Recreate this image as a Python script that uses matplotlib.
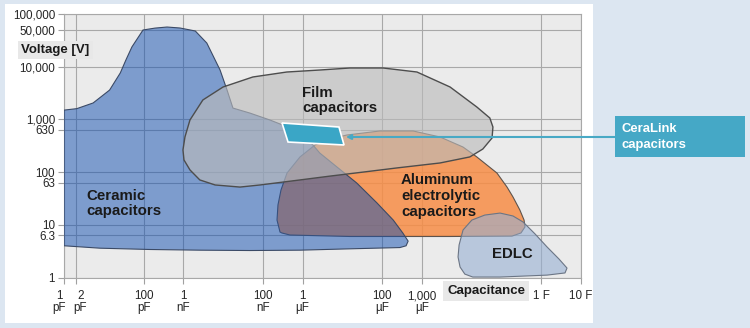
import matplotlib
matplotlib.use('Agg')
import matplotlib.pyplot as plt
from matplotlib.colors import to_rgba
from matplotlib.patches import Rectangle
from matplotlib.transforms import ScaledTranslation

plt.rcParams['font.family'] = ['Liberation Sans', 'DejaVu Sans']

# axis ticks
cap_ticks = [1e-12, 2e-12, 1e-10, 1e-9, 1e-7, 1e-6, 1e-4, 1e-3, 1.0, 10.0]
cap_labels = ['1\npF', '2\npF', '100\npF', '1\nnF', '100\nnF', '1\nµF',
              '100\nµF', '1,000\nµF', '1 F', '10 F']
volt_ticks = [1, 6.3, 10, 63, 100, 630, 1000, 10000, 50000, 100000]
volt_labels = ['1', '6.3', '10', '63', '100', '630', '1,000', '10,000',
               '50,000', '100,000']

# region outlines, capacitance [F] and voltage [V]
ceramic_c = [1e-12, 2.1e-12, 5.4e-12, 14e-12, 26e-12, 36e-12, 51e-12, 97e-12,
             194e-12, 390e-12, 830e-12, 2.0e-9, 3.9e-9, 8.4e-9, 12.6e-9,
             17.7e-9, 47e-9, 150e-9, 480e-9, 1.8e-6, 2.7e-6, 7.3e-6, 23e-6,
             74e-6, 190e-6, 330e-6, 450e-6, 400e-6, 280e-6, 15.5e-6, 860e-9,
             47e-9, 2.6e-9, 145e-12, 8e-12, 1e-12]
ceramic_v = [1500, 1600, 2050, 3600, 7600, 13400, 23700, 49700, 54000, 56600,
             54200, 47600, 28100, 8650, 3600, 1640, 1320, 975, 690, 330, 230,
             125, 62, 26, 12.3, 7.0, 4.9, 4.0, 3.7, 3.5, 3.3, 3.25, 3.3, 3.4,
             3.6, 4.0]

film_c = [0.98e-9, 1.1e-9, 1.47e-9, 3.1e-9, 10e-9, 56e-9, 400e-9, 2.7e-6,
          15.5e-6, 105e-6, 750e-6, 5.1e-3, 24e-3, 51e-3, 61e-3, 58e-3, 34e-3,
          16e-3, 2.85e-3, 236e-6, 33e-6, 4.9e-6, 860e-9, 85e-9, 26.6e-9,
          6.3e-9, 2.6e-9, 1.47e-9, 1.04e-9]
film_v = [263, 464, 975, 2335, 4120, 6380, 7930, 8650, 9450, 9450, 7930, 4120,
          1720, 1063, 717, 444, 274, 194, 149, 120, 100, 84, 71, 57, 52, 57,
          71, 110, 170]

alu_c = [270e-9, 227e-9, 240e-9, 286e-9, 405e-9, 860e-9, 2.05e-6, 4.9e-6,
         13e-6, 88e-6, 600e-6, 2.85e-3, 10.8e-3, 24e-3, 77e-3, 138e-3, 195e-3,
         290e-3, 370e-3, 390e-3, 310e-3, 184e-3, 5.1e-3, 15.5e-6, 480e-9,
         300e-9]
alu_v = [7.3, 12.3, 23.8, 45.8, 96, 194, 327, 425, 506, 603, 603, 464, 299,
         194, 96, 52, 33.7, 19.1, 12.3, 9.1, 7.0, 6.1, 6.0, 6.0, 6.4, 7.0]

edlc_c = [8.1e-3, 8.6e-3, 10.8e-3, 18e-3, 38e-3, 92e-3, 195e-3, 350e-3,
          700e-3, 1.4, 2.8, 4.45, 3.96, 1.4, 92e-3, 19e-3, 12e-3, 9.1e-3]
edlc_v = [2.45, 4.14, 7.96, 12.3, 15.3, 16.7, 14.7, 11.3, 6.7, 3.8, 2.24,
          1.51, 1.22, 1.11, 1.02, 1.02, 1.16, 1.58]

ceralink_c = [303e-9, 8.2e-6, 11e-6, 430e-9]
ceralink_v = [855, 717, 327, 372]
ceralink_anchor = (12.3e-6, 464)

W, H = 750, 328
fig = plt.figure(figsize=(7.5, 3.28), dpi=100, facecolor='#dce6f1')
fig.add_artist(Rectangle((5 / W, 1 - 323 / H), 588 / W, 319 / H,
                         transform=fig.transFigure, facecolor='white',
                         edgecolor='none', zorder=0))

ax = fig.add_axes([64 / W, 1 - 277.5 / H, 517 / W, 263.5 / H])
ax.set_facecolor('#ebebeb')
ax.set_xscale('log')
ax.set_yscale('log')
ax.set_xlim(1e-12, 10)
ax.set_ylim(1, 1e5)

ax.set_xticks(cap_ticks)
ax.set_xticklabels(cap_labels, linespacing=1.0)
ax.set_yticks(volt_ticks)
ax.set_yticklabels(volt_labels)
ax.minorticks_off()
ax.tick_params(axis='both', length=4.3, width=0.8, color='#a0a0a0',
               labelsize=8.4, labelcolor='#262626')
ax.tick_params(axis='y', pad=2.2)
ax.tick_params(axis='x', pad=5)

# 1 pF and 2 pF sit close together, nudge them apart
xlabels = ax.get_xticklabels()
xlabels[0].set_transform(xlabels[0].get_transform() +
                         ScaledTranslation(-0.045, 0, fig.dpi_scale_trans))
xlabels[1].set_transform(xlabels[1].get_transform() +
                         ScaledTranslation(0.045, 0, fig.dpi_scale_trans))

ax.grid(True, color='#a8a8a8', linewidth=0.8)
ax.set_axisbelow(True)
for s in ax.spines.values():
    s.set_color('#a8a8a8')
    s.set_linewidth(0.8)

# regions (order gives the overlap colours)
ax.fill(alu_c, alu_v, facecolor=to_rgba('#f78d46', 0.85),
        edgecolor='#5e534c', linewidth=0.8, zorder=2)
ax.fill(ceramic_c, ceramic_v, facecolor=to_rgba('#114fb1', 0.5),
        edgecolor='#3b4a66', linewidth=0.8, zorder=3)
ax.fill(film_c, film_v, facecolor=to_rgba('#bbbbbb', 0.63),
        edgecolor='#4d4d4d', linewidth=1.0, zorder=4)
ax.fill(edlc_c, edlc_v, facecolor=to_rgba('#96afd2', 0.6),
        edgecolor='#6b7585', linewidth=0.8, zorder=5)
ax.fill(ceralink_c, ceralink_v, facecolor='#3aa6c6', edgecolor='white',
        linewidth=1.2, zorder=6)

ax.annotate('', xy=ceralink_anchor, xytext=(615 / W, 1 - 137 / H),
            textcoords='figure fraction', annotation_clip=False, zorder=7,
            arrowprops=dict(arrowstyle='-|>', color='#48a9c5', lw=1.5,
                            mutation_scale=7, shrinkA=0, shrinkB=0))

# labels
lab = dict(fontsize=10.8, fontweight='bold', color='#1a1a1a',
           linespacing=1.15, va='center', ha='left', zorder=8)
fig.text(86 / W, 1 - 203.5 / H, 'Ceramic\ncapacitors', **lab)
fig.text(302 / W, 1 - 100.5 / H, 'Film\ncapacitors', **lab)
fig.text(401 / W, 1 - 196 / H, 'Aluminum\nelectrolytic\ncapacitors', **lab)
fig.text(512 / W, 1 - 254.5 / H, 'EDLC', fontsize=10.8, fontweight='bold',
         color='#1a1a1a', ha='center', va='center')

fig.text(21 / W, 1 - 50 / H, 'Voltage [V]', fontsize=9.5, fontweight='bold',
         color='#1a1a1a', va='center', ha='left',
         bbox=dict(boxstyle='square,pad=0.25', facecolor='#e8e8e8',
                   edgecolor='none'))
fig.text(486 / W, 1 - 291 / H, 'Capacitance', fontsize=9.5,
         fontweight='bold', color='#1a1a1a', va='center', ha='center',
         bbox=dict(boxstyle='square,pad=0.3', facecolor='#e8e8e8',
                   edgecolor='none'))

# CeraLink callout box
fig.add_artist(Rectangle((615 / W, 1 - 157 / H), 130 / W, 41 / H,
                         transform=fig.transFigure, facecolor='#45a8c6',
                         edgecolor='none', zorder=1))
fig.text(622 / W, 1 - 137 / H, 'CeraLink\ncapacitors', fontsize=9.4,
         fontweight='bold', color='white', va='center', ha='left',
         linespacing=1.35)

fig.savefig('out.png', dpi=100, facecolor=fig.get_facecolor())
